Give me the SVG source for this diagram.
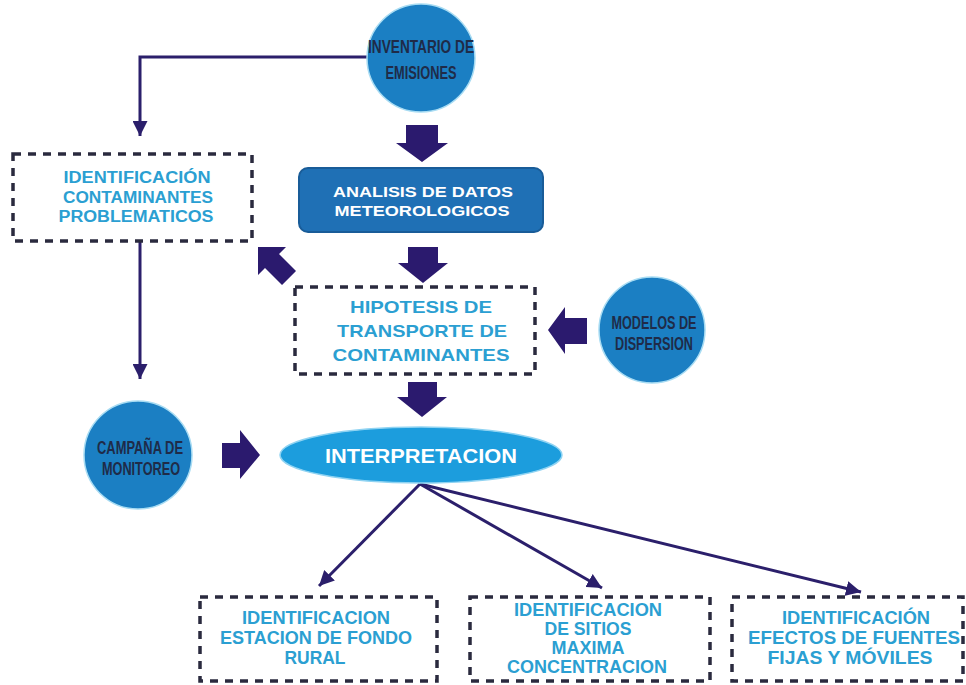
<svg xmlns="http://www.w3.org/2000/svg" width="966" height="685" viewBox="0 0 966 685">
<defs>
<style>
.dash{fill:none;stroke:#2a2a3e;stroke-width:3.5;stroke-dasharray:8 7}
.circ{fill:#1b7fc3;stroke:#a8dcf3;stroke-width:1.5}
.ctext{font-family:"Liberation Sans",Arial,sans-serif;font-weight:bold;font-size:18px;fill:#1f2b48;text-anchor:middle}
.btext{font-family:"Liberation Sans",Arial,sans-serif;font-weight:bold;fill:#2b9fd2;text-anchor:middle}
.wtext{font-family:"Liberation Sans",Arial,sans-serif;font-weight:bold;fill:#ffffff;text-anchor:middle}
.line{fill:none;stroke:#2b1f6b;stroke-width:3}
.blk{fill:#2b1a6e}
</style>
<marker id="ah" viewBox="0 0 10 10" refX="10" refY="5" markerWidth="5" markerHeight="5" orient="auto" markerUnits="strokeWidth">
<path d="M0,0 L10,5 L0,10 z" fill="#2b1f6b"/>
</marker>
</defs>
<rect width="966" height="685" fill="#ffffff"/>

<g id="connectors">
<polyline class="line" points="368,57 140,57 140,136" marker-end="url(#ah)"/>
<line class="line" x1="140" y1="242" x2="140" y2="379" marker-end="url(#ah)"/>
<line class="line" x1="420" y1="484" x2="319" y2="586" marker-end="url(#ah)"/>
<line class="line" x1="420" y1="484" x2="602" y2="588" marker-end="url(#ah)"/>
<line class="line" x1="420" y1="484" x2="861" y2="592" marker-end="url(#ah)"/>
<polygon class="blk" points="406,125 438,125 438,143 448,143 422,162 396,143 406,143"/>
<polygon class="blk" points="408,247 438,247 438,263 448,263 423,283 398,263 408,263"/>
<polygon class="blk" points="408,382 437,382 437,397 447,397 422,417 397,397 408,397"/>
<polygon class="blk" points="587,318 565,318 565,307 548,330 565,354 565,344 587,344"/>
<polygon class="blk" points="222,443 240,443 240,430 260,455 240,479 240,468 222,468"/>
<polygon class="blk" points="258,247 286,247 279,254 296,271 282,285 265,268 258,275"/>
</g>

<g id="inventario">
<circle class="circ" cx="421" cy="58" r="54"/>
<text class="ctext" x="421" y="53" textLength="106" lengthAdjust="spacingAndGlyphs">INVENTARIO DE</text>
<text class="ctext" x="421" y="79" textLength="71" lengthAdjust="spacingAndGlyphs">EMISIONES</text>
</g>

<g id="identificacion-contaminantes">
<rect class="dash" x="13" y="154" width="239" height="87"/>
<text class="btext" font-size="16" x="137" y="183" textLength="147" lengthAdjust="spacingAndGlyphs">IDENTIFICACIÓN</text>
<text class="btext" font-size="16" x="138" y="203" textLength="150" lengthAdjust="spacingAndGlyphs">CONTAMINANTES</text>
<text class="btext" font-size="16" x="136" y="222" textLength="155" lengthAdjust="spacingAndGlyphs">PROBLEMATICOS</text>
</g>

<g id="analisis">
<rect x="299" y="168" width="244" height="64" rx="9" fill="#1f70b5" stroke="#195c98" stroke-width="2"/>
<text class="wtext" font-size="15" x="423" y="197" textLength="180" lengthAdjust="spacingAndGlyphs">ANALISIS DE DATOS</text>
<text class="wtext" font-size="15" x="422" y="216" textLength="175" lengthAdjust="spacingAndGlyphs">METEOROLOGICOS</text>
</g>

<g id="hipotesis">
<rect class="dash" x="295" y="287" width="240" height="87"/>
<text class="btext" font-size="17" x="421" y="313" textLength="142" lengthAdjust="spacingAndGlyphs">HIPOTESIS DE</text>
<text class="btext" font-size="17" x="422" y="337" textLength="170" lengthAdjust="spacingAndGlyphs">TRANSPORTE DE</text>
<text class="btext" font-size="17" x="421" y="361" textLength="177" lengthAdjust="spacingAndGlyphs">CONTAMINANTES</text>
</g>

<g id="modelos">
<circle class="circ" cx="652" cy="330" r="53"/>
<text class="ctext" x="654" y="329" textLength="85" lengthAdjust="spacingAndGlyphs">MODELOS DE</text>
<text class="ctext" x="654" y="350" textLength="78" lengthAdjust="spacingAndGlyphs">DISPERSION</text>
</g>

<g id="campana">
<circle class="circ" cx="138" cy="455" r="54"/>
<text class="ctext" x="140" y="454" textLength="86" lengthAdjust="spacingAndGlyphs">CAMPAÑA DE</text>
<text class="ctext" x="141" y="475" textLength="78" lengthAdjust="spacingAndGlyphs">MONITOREO</text>
</g>

<g id="interpretacion">
<ellipse cx="421" cy="455" rx="141" ry="28" fill="#1c9ddd" stroke="#8fd3f2" stroke-width="1.5"/>
<text class="wtext" font-size="21" x="421" y="463" textLength="192" lengthAdjust="spacingAndGlyphs">INTERPRETACION</text>
</g>

<g id="estacion-fondo">
<rect class="dash" x="200" y="597" width="237" height="84"/>
<text class="btext" font-size="18" x="316" y="624" textLength="148" lengthAdjust="spacingAndGlyphs">IDENTIFICACION</text>
<text class="btext" font-size="18" x="316" y="644" textLength="192" lengthAdjust="spacingAndGlyphs">ESTACION DE FONDO</text>
<text class="btext" font-size="18" x="315" y="664" textLength="61" lengthAdjust="spacingAndGlyphs">RURAL</text>
</g>

<g id="sitios-maxima">
<rect class="dash" x="470" y="597" width="240" height="84"/>
<text class="btext" font-size="18" x="588" y="616" textLength="148" lengthAdjust="spacingAndGlyphs">IDENTIFICACION</text>
<text class="btext" font-size="18" x="588" y="635" textLength="87" lengthAdjust="spacingAndGlyphs">DE SITIOS</text>
<text class="btext" font-size="18" x="588" y="654" textLength="73" lengthAdjust="spacingAndGlyphs">MAXIMA</text>
<text class="btext" font-size="18" x="587" y="673" textLength="160" lengthAdjust="spacingAndGlyphs">CONCENTRACION</text>
</g>

<g id="fuentes">
<rect class="dash" x="732" y="597" width="231" height="84"/>
<text class="btext" font-size="18" x="856" y="624" textLength="148" lengthAdjust="spacingAndGlyphs">IDENTIFICACIÓN</text>
<text class="btext" font-size="18" x="854" y="644" textLength="212" lengthAdjust="spacingAndGlyphs">EFECTOS DE FUENTES</text>
<text class="btext" font-size="18" x="850" y="664" textLength="165" lengthAdjust="spacingAndGlyphs">FIJAS Y MÓVILES</text>
</g>
</svg>
